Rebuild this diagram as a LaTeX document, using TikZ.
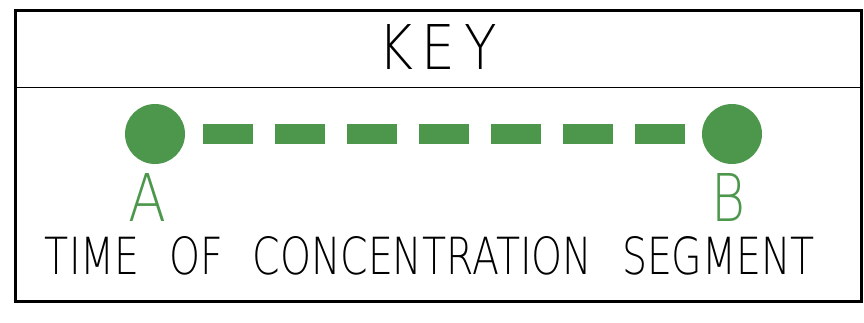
\documentclass[tikz,border=0pt]{standalone}
\usepackage{fontspec}
\usepackage{graphicx}
\usetikzlibrary{positioning}
\newfontfamily\cadfont{DejaVu Sans ExtraLight}
\newcommand\wgap{\hspace{0.75em}}
\definecolor{segment}{RGB}{76,151,76}

\begin{document}
\begin{tikzpicture}[
      x=1pt,y=-1pt,
      frame/.style={draw=black,line width=3pt},
      rule/.style={draw=black,line width=1.5pt},
      endpt/.style={circle,fill=segment,inner sep=0pt,minimum size=60pt},
      seg/.style={segment,line width=20pt,dash pattern=on 50pt off 22pt,
        shorten <=48pt,shorten >=47pt},
      caps/.style={inner sep=0pt,font=\cadfont\fontsize{50}{50}\selectfont},
      letter/.style={caps,text=segment}
    ]
      \useasboundingbox (0,0) rectangle (864,323);
      \draw[frame] (15,11) rectangle (861.5,301.5);
      \draw[rule] (15,87.5) -- (861.5,87.5);

      \node[caps] (key) at (437.5,47.5){\resizebox{119pt}{45pt}{K\,E\,Y}};

      \node[endpt] (ptA) at (155,134){};
      \node[endpt] (ptB) at (732,134){};
      \draw[seg] (ptA.center) -- (ptB.center);

      \node[letter,below=9pt of ptA,xshift=-8pt] (labA){\resizebox{38pt}{48pt}{A}};
      \node[letter,below=9pt of ptB,xshift=-4pt] (labB){\resizebox{34pt}{48pt}{B}};

      \node[caps] (legend) at (430,256)
        {\resizebox{770pt}{38pt}{TIME\wgap OF\wgap CONCENTRATION\wgap SEGMENT}};
    \end{tikzpicture}
\end{document}
